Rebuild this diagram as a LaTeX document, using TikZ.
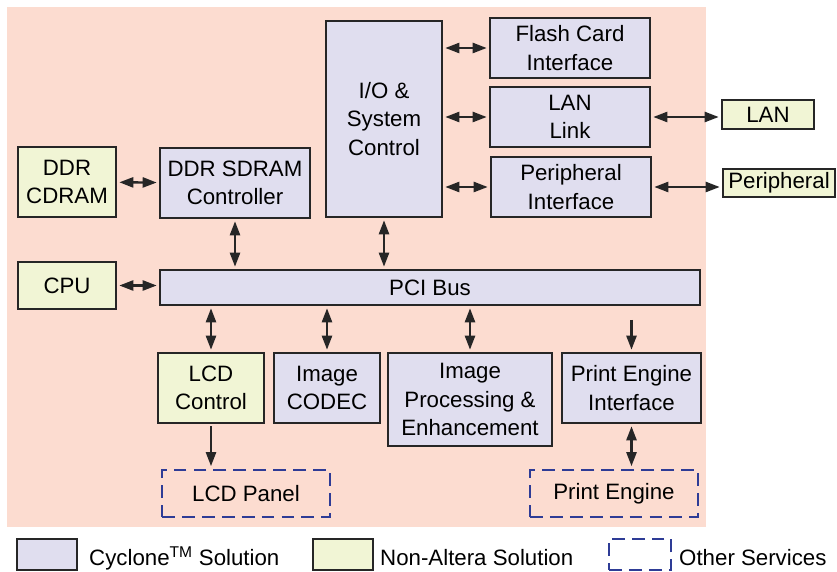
\documentclass[tikz,border=0pt]{standalone}
\usepackage{fontspec}
\setmainfont{Liberation Sans}
\usetikzlibrary{arrows.meta}
\definecolor{bgpink}{RGB}{252,220,208}
\definecolor{cyclone}{RGB}{224,222,239}
\definecolor{nonaltera}{RGB}{241,245,213}
\definecolor{dashblue}{RGB}{46,60,150}

\begin{document}
\begin{tikzpicture}
  [x=0.03cm,y=-0.03cm,
   every node/.style={font=\fontsize{19}{24}\selectfont,align=center,inner sep=0pt},
   sz/.style 2 args={minimum width=#1*0.03cm,minimum height=#2*0.03cm},
   cyc/.style={draw=black!85,line width=1.6pt,fill=cyclone},
   nonalt/.style={draw=black!85,line width=1.6pt,fill=nonaltera},
   other/.style={draw=dashblue,line width=2.5pt,dash pattern=on 11pt off 6pt},
   link/.style={line width=2pt,draw=black!85,shorten <=2pt,shorten >=2pt},
   both/.style={{Triangle[length=0.42cm,width=0.3cm]}-{Triangle[length=0.42cm,width=0.3cm]}},
   down/.style={-{Triangle[length=0.42cm,width=0.3cm]}}]
  \useasboundingbox (0,0) rectangle (837,572);
  \fill[bgpink] (7,7) rectangle (706,527);
  % blocks
  \node[nonalt,sz={98}{70}] (ddr) at (67,182) {DDR\\CDRAM};
  \node[cyc,sz={150}{70}] (sdram) at (235,183) {DDR SDRAM\\Controller};
  \node[cyc,sz={116}{196}] (io) at (384,119) {I/O \&\\System\\Control};
  \node[cyc,sz={160}{60}] (flash) at (570,48) {Flash Card\\Interface};
  \node[cyc,sz={160}{60}] (lanlink) at (570,117) {LAN\\Link};
  \node[cyc,sz={160}{60}] (periphif) at (571,187) {Peripheral\\Interface};
  \node[nonalt,sz={92}{29}] (lan) at (768,114.5) {LAN};
  \node[nonalt,sz={112}{28}] (periph) at (779,183) {Peripheral};
  \node[nonalt,sz={98}{47}] (cpu) at (67,285.5) {CPU};
  \node[cyc,sz={540}{35}] (pci) at (430,287.5) {PCI Bus};
  \node[nonalt,sz={106}{70}] (lcdctl) at (211,388) {LCD\\Control};
  \node[cyc,sz={106}{70}] (codec) at (327,388) {Image\\CODEC};
  \node[cyc,sz={164}{93}] (improc) at (470,399.5) {Image\\Processing \&\\Enhancement};
  \node[cyc,sz={139}{70}] (pei) at (631.5,388) {Print Engine\\Interface};
  \node[other,sz={168}{47}] (lcdpanel) at (246,493.5) {LCD Panel};
  \node[other,sz={168}{47}] (printeng) at (614,493.5) {Print Engine};
  % legend
  \node[cyc,sz={60}{31}] (keycyc) at (47,554.5) {};
  \node[anchor=base west] (txtcyc) at (89,565) {Cyclone\textsuperscript{TM} Solution};
  \node[nonalt,sz={60}{31}] (keynon) at (343,554.5) {};
  \node[anchor=base west] (txtnon) at (380,565) {Non-Altera Solution};
  \node[other,sz={62}{31}] (keyoth) at (640,554.5) {};
  \node[anchor=base west] (txtoth) at (679,565) {Other Services};
  % connections
  \draw[link,both] (ddr) -- (sdram);
  \draw[link,both] (cpu.east) -- (cpu.east -| pci.west);
  \foreach \from in {sdram,io}
    \draw[link,both] (\from.south) -- (\from.south |- pci.north);
  \foreach \to in {flash,lanlink,periphif}
    \draw[link,both] (io.east |- \to.west) -- (\to.west);
  \foreach \from/\to in {lanlink/lan,periphif/periph}
    \draw[link,both] (\from.east) -- (\from.east -| \to.west);
  \foreach \to in {lcdctl,codec,improc}
    \draw[link,both] (pci.south -| \to.north) -- (\to.north);
  \draw[link,down,shorten <=12pt] (pci.south -| pei.north) -- (pei.north);
  \draw[link,down] (lcdctl.south) -- (lcdctl.south |- lcdpanel.north);
  \draw[link,both] (pei.south) -- (pei.south |- printeng.north);
\end{tikzpicture}
\end{document}
